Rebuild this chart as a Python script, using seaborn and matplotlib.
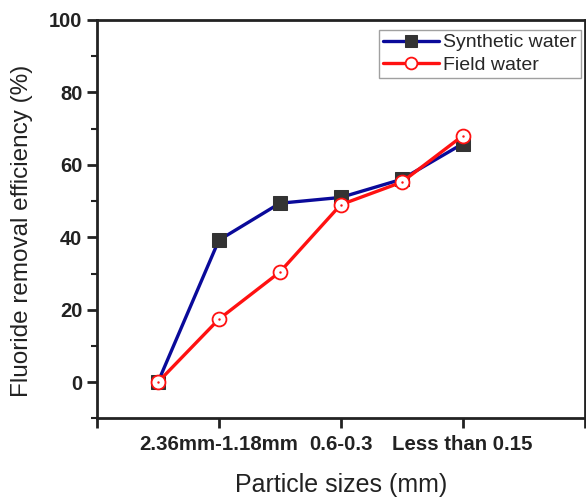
import matplotlib
matplotlib.use("Agg")
import matplotlib.pyplot as plt
import seaborn as sns
import pandas as pd
from matplotlib.ticker import MultipleLocator

sns.set_theme(style="white")
plt.rcParams['font.family'] = ['Liberation Sans', 'DejaVu Sans']

positions = [0, 1, 2, 3, 4, 5]
synthetic = [0, 39.2, 49.4, 51.0, 56.0, 65.8]
field = [0, 17.4, 30.4, 49.0, 55.2, 68.0]
tick_pos = [-1, 1, 3, 5, 7]
tick_labels = ["", "2.36mm-1.18mm", "0.6-0.3", "Less than 0.15", ""]

df_s = pd.DataFrame({"x": positions, "y": synthetic})
df_f = pd.DataFrame({"x": positions, "y": field})

fig = plt.figure(figsize=(5.86, 4.97), dpi=100)
ax = fig.add_axes([0.1655, 0.158, 0.832, 0.802])

sns.lineplot(data=df_s, x="x", y="y", ax=ax, color="#0a0a9a", lw=2.4,
             marker="s", markersize=10.5, markerfacecolor="#333333",
             markeredgecolor="#333333", label="Synthetic water")
sns.lineplot(data=df_f, x="x", y="y", ax=ax, color="#ff1111", lw=2.4,
             marker="o", markersize=10, markerfacecolor="white",
             markeredgecolor="#ff1111", markeredgewidth=1.3, label="Field water")
ax.plot(df_f["x"], df_f["y"], ls="none", marker=".", markersize=1.5, color="#ff1111")

ax.set_xlim(-1, 7)
ax.set_ylim(-10, 100)
ax.set_xticks(tick_pos)
ax.set_xticklabels(tick_labels, fontsize=14.7, fontweight="bold")
ax.yaxis.set_minor_locator(MultipleLocator(10))
ax.set_yticks([0, 20, 40, 60, 80, 100])
for lab in ax.get_yticklabels():
    lab.set_fontweight("bold")
    lab.set_fontsize(14.5)
ax.tick_params(axis="both", which="major", direction="out", length=7, width=2,
               bottom=True, left=True, colors="#222222", labelcolor="#222222")
ax.tick_params(axis="x", which="major", pad=5)
ax.tick_params(axis="y", which="minor", direction="out", length=4, width=1.5,
               left=True, color="#222222")
for s in ax.spines.values():
    s.set_linewidth(2)
    s.set_color("#222222")

ax.set_xlabel("Particle sizes (mm)", fontsize=18, color="#222222")
ax.xaxis.set_label_coords(0.5, -0.137)
ax.set_ylabel("Fluoride removal efficiency (%)", fontsize=17.5, color="#222222")
ax.yaxis.set_label_coords(-0.131, 0.47)

leg = ax.legend(loc="upper right", fontsize=14, frameon=True, fancybox=False,
                edgecolor="#888888", borderpad=0.2, handlelength=2.9,
                handletextpad=0.2, labelspacing=0.25, borderaxespad=0.0,
                bbox_to_anchor=(0.992, 0.975), markerscale=0.85)
leg.get_frame().set_linewidth(1)

fig.savefig("out.png", dpi=100)
